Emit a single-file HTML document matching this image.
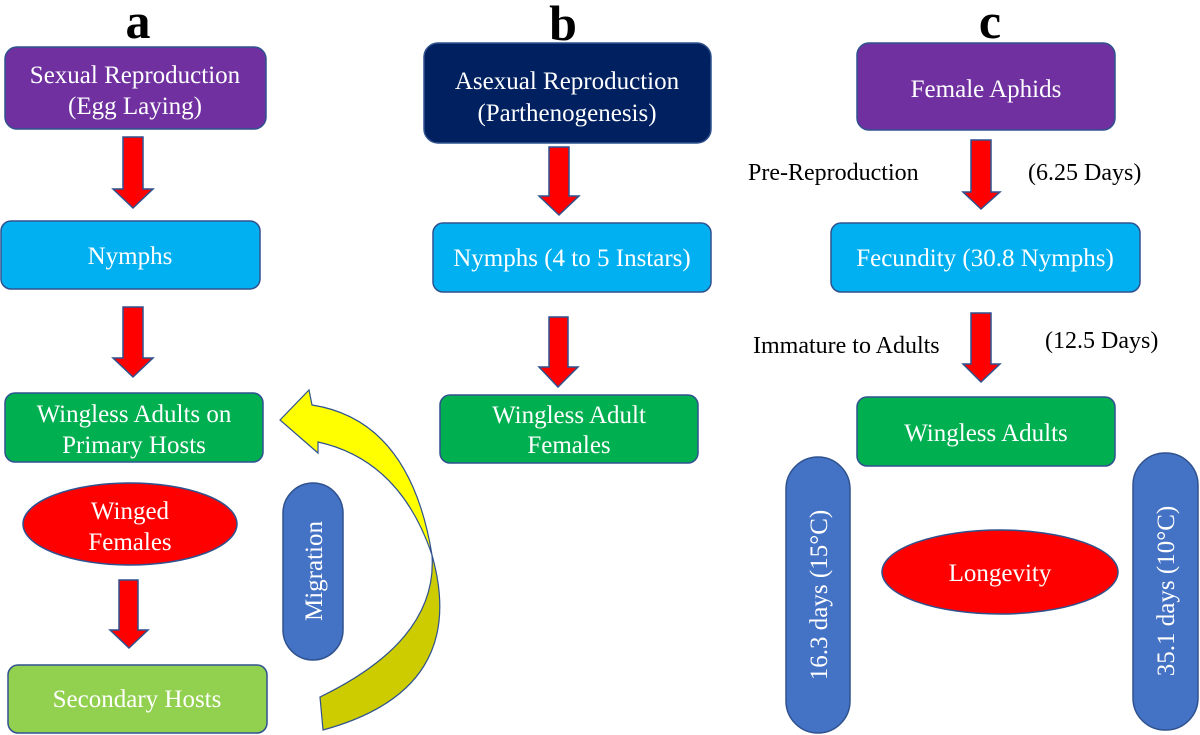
<!DOCTYPE html>
<html><head><meta charset="utf-8"><style>
html,body{margin:0;padding:0;background:#fff;}
svg{display:block;}
text{font-family:"Liberation Serif","DejaVu Serif",serif;}
</style></head><body>
<svg width="1200" height="735" viewBox="0 0 1200 735" xmlns="http://www.w3.org/2000/svg">
<g font-size="25" text-anchor="middle">
<text x="138" y="38" font-size="50" font-weight="bold" fill="#000">a</text>
<text x="563" y="40" font-size="50" font-weight="bold" fill="#000">b</text>
<text x="990" y="38" font-size="50" font-weight="bold" fill="#000">c</text>

<!-- Panel a -->
<rect x="5" y="47" width="261" height="82" rx="12" fill="#7030A0" stroke="#2F528F" stroke-width="1.5"/>
<text x="135" y="83" fill="#fff">Sexual Reproduction</text>
<text x="135" y="114" fill="#fff">(Egg Laying)</text>
<polygon points="123,137 143,137 143,189 153,189 133,208 113,189 123,189" fill="#FF0000" stroke="#2F528F" stroke-width="1.5"/>
<rect x="1" y="221" width="259" height="68" rx="10" fill="#00B0F0" stroke="#2F528F" stroke-width="1.5"/>
<text x="130" y="264" fill="#fff">Nymphs</text>
<polygon points="123,307 143,307 143,358 153,358 133,377 113,358 123,358" fill="#FF0000" stroke="#2F528F" stroke-width="1.5"/>
<rect x="5" y="393" width="258" height="69" rx="10" fill="#00B050" stroke="#2F528F" stroke-width="1.5"/>
<text x="134" y="422" fill="#fff">Wingless Adults on</text>
<text x="134" y="453" fill="#fff">Primary Hosts</text>
<ellipse cx="130" cy="524" rx="107" ry="41" fill="#FF0000" stroke="#2F528F" stroke-width="1.5"/>
<text x="130" y="519" fill="#fff">Winged</text>
<text x="130" y="550" fill="#fff">Females</text>
<polygon points="119,580 138,580 138,630 148,630 129,648 110,630 119,630" fill="#FF0000" stroke="#2F528F" stroke-width="1.5"/>
<rect x="8" y="665" width="259" height="68" rx="10" fill="#92D050" stroke="#2F528F" stroke-width="1.5"/>
<text x="137" y="707" fill="#fff">Secondary Hosts</text>
<rect x="283" y="483" width="60" height="177" rx="30" fill="#4472C4" stroke="#2F528F" stroke-width="1.5"/>
<text transform="translate(322,571) rotate(-90)" fill="#fff">Migration</text>
<path d="M323,730 Q470,690 432,555 Q438,640 320,697 Z" fill="#CCCC00" stroke="#2F528F" stroke-width="1.2"/>
<path d="M280,420 L309,390 L312,405 Q410,420 432,555 Q400,460 318,442 L318,453 Z" fill="#FFFF00" stroke="#2F528F" stroke-width="1.2"/>

<!-- Panel b -->
<rect x="424" y="43" width="287" height="100" rx="14" fill="#002060" stroke="#2F528F" stroke-width="1.5"/>
<text x="567" y="89" fill="#fff">Asexual Reproduction</text>
<text x="567" y="121" fill="#fff">(Parthenogenesis)</text>
<polygon points="549,147 569,147 569,196 579,196 559,215 539,196 549,196" fill="#FF0000" stroke="#2F528F" stroke-width="1.5"/>
<rect x="433" y="223" width="278" height="69" rx="10" fill="#00B0F0" stroke="#2F528F" stroke-width="1.5"/>
<text x="572" y="266" fill="#fff">Nymphs (4 to 5 Instars)</text>
<polygon points="549,317 568,317 568,367 578,367 558,387 539,367 549,367" fill="#FF0000" stroke="#2F528F" stroke-width="1.5"/>
<rect x="440" y="395" width="258" height="68" rx="10" fill="#00B050" stroke="#2F528F" stroke-width="1.5"/>
<text x="569" y="423" fill="#fff">Wingless Adult</text>
<text x="569" y="453" fill="#fff">Females</text>

<!-- Panel c -->
<rect x="857" y="43" width="258" height="87" rx="12" fill="#7030A0" stroke="#2F528F" stroke-width="1.5"/>
<text x="986" y="97" fill="#fff">Female Aphids</text>
<polygon points="971,140 991,140 991,192 1000,192 981,209 963,192 971,192" fill="#FF0000" stroke="#2F528F" stroke-width="1.5"/>
<text x="748" y="180" fill="#000" text-anchor="start" font-size="24">Pre-Reproduction</text>
<text x="1028" y="180" fill="#000" text-anchor="start" font-size="24">(6.25 Days)</text>
<rect x="831" y="223" width="309" height="69" rx="10" fill="#00B0F0" stroke="#2F528F" stroke-width="1.5"/>
<text x="985" y="266" fill="#fff">Fecundity (30.8 Nymphs)</text>
<polygon points="971,313 991,313 991,364 1000,364 981,382 963,364 971,364" fill="#FF0000" stroke="#2F528F" stroke-width="1.5"/>
<text x="753" y="353" fill="#000" text-anchor="start" font-size="24">Immature to Adults</text>
<text x="1045" y="348" fill="#000" text-anchor="start" font-size="24">(12.5 Days)</text>
<rect x="857" y="397" width="258" height="69" rx="10" fill="#00B050" stroke="#2F528F" stroke-width="1.5"/>
<text x="986" y="441" fill="#fff">Wingless Adults</text>
<rect x="786" y="457" width="64" height="276" rx="32" fill="#4472C4" stroke="#2F528F" stroke-width="1.5"/>
<text transform="translate(827,595) rotate(-90)" fill="#fff">16.3 days (15°C)</text>
<rect x="1133" y="453" width="65" height="277" rx="32" fill="#4472C4" stroke="#2F528F" stroke-width="1.5"/>
<text transform="translate(1174,591) rotate(-90)" fill="#fff">35.1 days (10°C)</text>
<ellipse cx="1000" cy="572" rx="118" ry="42" fill="#FF0000" stroke="#2F528F" stroke-width="1.5"/>
<text x="1000" y="581" fill="#fff">Longevity</text>
</g>
</svg>
</body></html>
